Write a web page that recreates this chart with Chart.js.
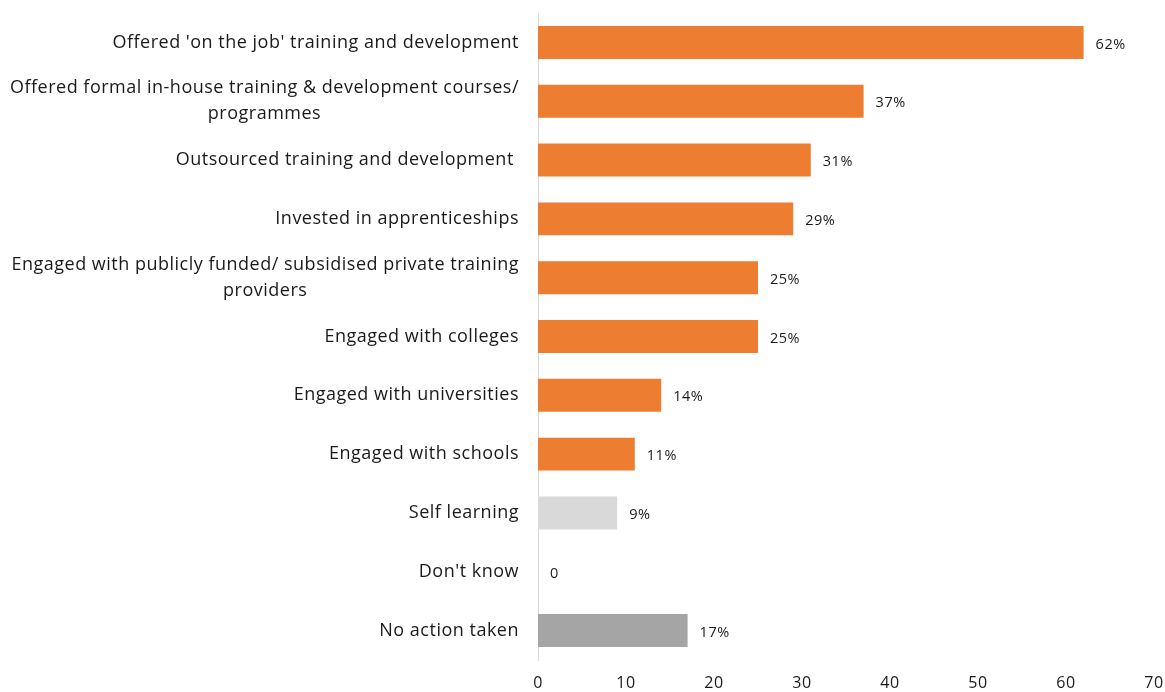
<!DOCTYPE html>
<html lang="en">
    <head>
        <meta charset="UTF-8"/>
        <script src="https://cdn.jsdelivr.net/npm/chart.js@4.4.0/dist/chart.umd.min.js"></script>
        <title>Training and development actions</title>
        <style>
            html, body { margin: 0; padding: 0; background: #fff; }
            #wrap { width: 1165px; height: 692px; }
        </style>
    </head>
    <body>
        <div id="wrap"><canvas id="chart"></canvas></div>

        <script>
            const actions = [
                "Offered 'on the job' training and development",
                ["Offered formal in-house training & development courses/", "programmes"],
                "Outsourced training and development ",
                "Invested in apprenticeships",
                ["Engaged with publicly funded/ subsidised private training", "providers"],
                "Engaged with colleges",
                "Engaged with universities",
                "Engaged with schools",
                "Self learning",
                "Don't know",
                "No action taken"
            ];
            const shares = [62, 37, 31, 29, 25, 25, 14, 11, 9, 0, 17];
            const shareLabels = ["62%", "37%", "31%", "29%", "25%", "25%", "14%", "11%", "9%", "0", "17%"];
            const xTicks = [0, 10, 20, 30, 40, 50, 60, 70];

            const FONT = '"Open Sans", sans-serif';
            const SPACING = '0.5px';
            const TEXT = '#1a1a1a';
            const ORANGE = '#ED7D31';
            const barColors = shares.map((v, i) => {
                if (actions[i] === 'Self learning') return '#D9D9D9';
                if (actions[i] === 'No action taken') return '#A5A5A5';
                return ORANGE;
            });

            // slightly looser letter spacing for all text on the canvas
            const loosenText = {
                id: 'loosenText',
                beforeLayout(chart) { chart.ctx.letterSpacing = SPACING; },
                beforeDraw(chart) { chart.ctx.letterSpacing = SPACING; }
            };

            // category labels: right-aligned block, wrapped lines centred inside it
            const categoryLabels = {
                id: 'categoryLabels',
                afterDraw(chart) {
                    const ctx = chart.ctx;
                    const y = chart.scales.y;
                    const right = chart.chartArea.left - 19;
                    const lh = 18 * 1.45;
                    ctx.save();
                    ctx.font = '18px ' + FONT;
                    ctx.fillStyle = TEXT;
                    ctx.textBaseline = 'middle';
                    actions.forEach((lab, i) => {
                        const cy = y.getPixelForTick(i);
                        if (Array.isArray(lab)) {
                            const w = Math.max(...lab.map(s => ctx.measureText(s).width));
                            ctx.textAlign = 'center';
                            lab.forEach((s, k) => {
                                ctx.fillText(s, right - w / 2, cy + (k - (lab.length - 1) / 2) * lh);
                            });
                        } else {
                            ctx.textAlign = 'right';
                            ctx.fillText(lab, right, cy);
                        }
                    });
                    ctx.restore();
                }
            };

            // writes the value text just past the end of each bar
            const valueLabels = {
                id: 'valueLabels',
                afterDatasetsDraw(chart) {
                    const ctx = chart.ctx;
                    const meta = chart.getDatasetMeta(0);
                    ctx.save();
                    ctx.font = '14.5px ' + FONT;
                    ctx.fillStyle = TEXT;
                    ctx.textAlign = 'left';
                    ctx.textBaseline = 'middle';
                    meta.data.forEach((bar, i) => {
                        ctx.fillText(shareLabels[i], bar.x + 12, bar.y + 2);
                    });
                    ctx.restore();
                }
            };

            const ctx = document.getElementById('chart').getContext('2d');
            new Chart(ctx, {
                type: 'bar',
                data: {
                    labels: actions,
                    datasets: [{
                        data: shares,
                        backgroundColor: barColors,
                        borderWidth: 0,
                        barPercentage: 1,
                        categoryPercentage: 0.56
                    }]
                },
                plugins: [loosenText, valueLabels, categoryLabels],
                options: {
                    indexAxis: 'y',
                    responsive: true,
                    maintainAspectRatio: false,
                    animation: false,
                    layout: { padding: { top: 13, left: 10, right: 11, bottom: 0 } },
                    plugins: {
                        legend: { display: false },
                        tooltip: { enabled: false }
                    },
                    scales: {
                        x: {
                            min: 0,
                            max: 70,
                            afterBuildTicks: axis => { axis.ticks = xTicks.map(v => ({ value: v })); },
                            afterFit: axis => { axis.height = 32; axis.paddingLeft = 0; axis.paddingRight = 0; },
                            grid: { display: false, drawTicks: false },
                            border: { display: false },
                            ticks: {
                                padding: 14,
                                color: TEXT,
                                font: { family: FONT, size: 16 }
                            }
                        },
                        y: {
                            afterFit: axis => { axis.width = 528; axis.paddingTop = 0; axis.paddingBottom = 0; },
                            grid: { display: false, drawTicks: false },
                            border: { display: true, color: '#D9D9D9', width: 1 },
                            ticks: {
                                padding: 19,
                                color: 'rgba(0,0,0,0)',
                                font: { family: FONT, size: 18, lineHeight: 1.45 }
                            }
                        }
                    }
                }
            });
        </script>
    </body>
</html>
